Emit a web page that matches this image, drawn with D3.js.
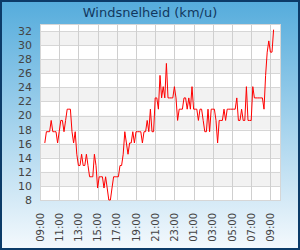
<!DOCTYPE html>
<html>
<head>
<meta charset="utf-8">
<script src="https://d3js.org/d3.v7.min.js"></script>
<style>
  body { margin: 0; }
  svg { display: block; font-family: "DejaVu Sans", sans-serif; }
</style>
</head>
<body>
<script>

W = 300;
H = 250;
margin = {top: 24, right: 20, bottom: 50, left: 40};

chartTitle = "Windsnelheid (km/u)";

// one reading every 10 minutes, starting 09:30
startTime = new Date(2020, 0, 1, 9, 30);
stepMinutes = 10;
windKmh = [
  16.1, 17.7, 17.7, 17.7, 19.3, 17.7, 17.7, 17.7, 16.1, 17.7,
  19.3, 19.3, 17.7, 19.3, 20.9, 20.9, 20.9, 17.7, 16.1, 17.7,
  14.5, 12.9, 12.9, 14.5, 12.9, 12.9, 14.5, 12.9, 11.3, 11.3,
  11.3, 14.5, 12.9,  9.7, 11.3, 11.3, 11.3,  9.7, 11.3,  9.7,
   8.0,  8.0,  9.7, 11.3, 11.3, 11.3, 11.3, 12.9, 12.9, 14.5,
  17.7, 16.1, 14.5, 16.1, 16.1, 17.7, 16.1, 17.7, 17.7, 17.7,
  17.7, 16.1, 17.7, 17.7, 19.3, 17.7, 20.9, 17.7, 17.7, 22.5,
  22.5, 20.9, 25.7, 22.5, 24.1, 22.5, 27.4, 22.5, 22.5, 22.5,
  22.5, 24.1, 22.5, 19.3, 20.9, 20.9, 20.9, 22.5, 22.5, 20.9,
  22.5, 20.9, 24.1, 20.9, 20.9, 20.9, 19.3, 20.9, 20.9, 19.3,
  17.7, 17.7, 20.9, 17.7, 20.9, 20.9, 20.9, 19.3, 16.1, 19.3,
  19.3, 19.3, 20.9, 19.3, 20.9, 20.9, 20.9, 20.9, 20.9, 20.9,
  22.5, 19.3, 19.3, 20.9, 19.3, 19.3, 24.1, 19.3, 19.3, 19.3,
  24.1, 22.5, 22.5, 22.5, 22.5, 22.5, 22.5, 20.9, 25.7, 29.0,
  30.6, 29.0, 29.0, 32.2
];

yTicks = [8, 10, 12, 14, 16, 18, 20, 22, 24, 26, 28, 30, 32];
yMax = 33;
xTickLabels = ["09:00", "11:00", "13:00", "15:00", "17:00", "19:00", "21:00",
               "23:00", "01:00", "03:00", "05:00", "07:00", "09:00"];

data = windKmh.map(function(v, i) {
  return {t: d3.timeMinute.offset(startTime, i * stepMinutes), v: v};
});

t0 = new Date(2020, 0, 1, 9, 0);
tEnd = new Date(2020, 0, 2, 10, 0);
xTicks = xTickLabels.map(function(d, i) { return d3.timeHour.offset(t0, i * 2); });

svg = d3.select("body").append("svg")
  .attr("width", W)
  .attr("height", H);

defs = svg.append("defs");
grad = defs.append("linearGradient").attr("id", "bg")
  .attr("x1", 0).attr("y1", 0).attr("x2", 0).attr("y2", 1);
grad.append("stop").attr("offset", "0%").attr("stop-color", "#55acdc");
grad.append("stop").attr("offset", "100%").attr("stop-color", "#f4f9fd");

svg.append("rect")
  .attr("x", 1).attr("y", 1)
  .attr("width", W - 2).attr("height", H - 2)
  .attr("fill", "url(#bg)")
  .attr("stroke", "#0c3b68")
  .attr("stroke-width", 2);

svg.append("text")
  .attr("x", W / 2)
  .attr("y", 16.5)
  .attr("text-anchor", "middle")
  .attr("font-size", 13)
  .attr("fill", "#12385e")
  .text(chartTitle);

x = d3.scaleTime()
  .domain([t0, tEnd])
  .range([margin.left, W - margin.right]);

y = d3.scaleLinear()
  .domain([yTicks[0], yMax])
  .range([H - margin.bottom, margin.top]);

plot = svg.append("g");

// plot background with alternating bands
plot.append("rect")
  .attr("x", x.range()[0]).attr("y", y.range()[1])
  .attr("width", x.range()[1] - x.range()[0])
  .attr("height", y.range()[0] - y.range()[1])
  .attr("fill", "white");

bands = yTicks.slice(0, -1).filter(function(d, i) { return i % 2 == 1; });
plot.selectAll(".band").data(bands).enter().append("rect")
  .attr("class", "band")
  .attr("x", x.range()[0])
  .attr("width", x.range()[1] - x.range()[0])
  .attr("y", function(d) { return y(d + 2); })
  .attr("height", function(d) { return y(d) - y(d + 2); })
  .attr("fill", "#f2f2f2");

plot.selectAll(".hgrid").data(yTicks).enter().append("line")
  .attr("class", "hgrid")
  .attr("x1", x.range()[0]).attr("x2", x.range()[1])
  .attr("y1", function(d) { return Math.round(y(d)) + 0.5; })
  .attr("y2", function(d) { return Math.round(y(d)) + 0.5; })
  .attr("stroke", "#d6d6d6");

plot.selectAll(".vgrid").data(xTicks).enter().append("line")
  .attr("class", "vgrid")
  .attr("x1", function(d) { return Math.round(x(d)) + 0.5; })
  .attr("x2", function(d) { return Math.round(x(d)) + 0.5; })
  .attr("y1", y.range()[1]).attr("y2", y.range()[0])
  .attr("stroke", "#cfcfcf");

plot.append("rect")
  .attr("x", x.range()[0] + 0.5).attr("y", y.range()[1] + 0.5)
  .attr("width", x.range()[1] - x.range()[0])
  .attr("height", y.range()[0] - y.range()[1])
  .attr("fill", "none")
  .attr("stroke", "#d6d6d6");

line = d3.line()
  .x(function(d) { return x(d.t); })
  .y(function(d) { return y(d.v); });

plot.append("path")
  .datum(data)
  .attr("d", line)
  .attr("fill", "none")
  .attr("stroke", "#ff0000")
  .attr("stroke-width", 1)
  .attr("stroke-linejoin", "miter");

// axes labels
svg.selectAll(".ylab").data(yTicks).enter().append("text")
  .attr("class", "ylab")
  .attr("x", 32)
  .attr("y", function(d) { return y(d); })
  .attr("dy", "0.36em")
  .attr("text-anchor", "end")
  .attr("font-size", 11)
  .attr("fill", "#444")
  .text(function(d) { return d; });

svg.selectAll(".xlab").data(xTicks).enter().append("text")
  .attr("class", "xlab")
  .attr("transform", function(d) { return "translate(" + x(d) + "," + 213 + ") rotate(-90)"; })
  .attr("dy", "0.36em")
  .attr("text-anchor", "end")
  .attr("font-size", 10)
  .attr("fill", "#444")
  .text(function(d, i) { return xTickLabels[i]; });

</script>
</body>
</html>
